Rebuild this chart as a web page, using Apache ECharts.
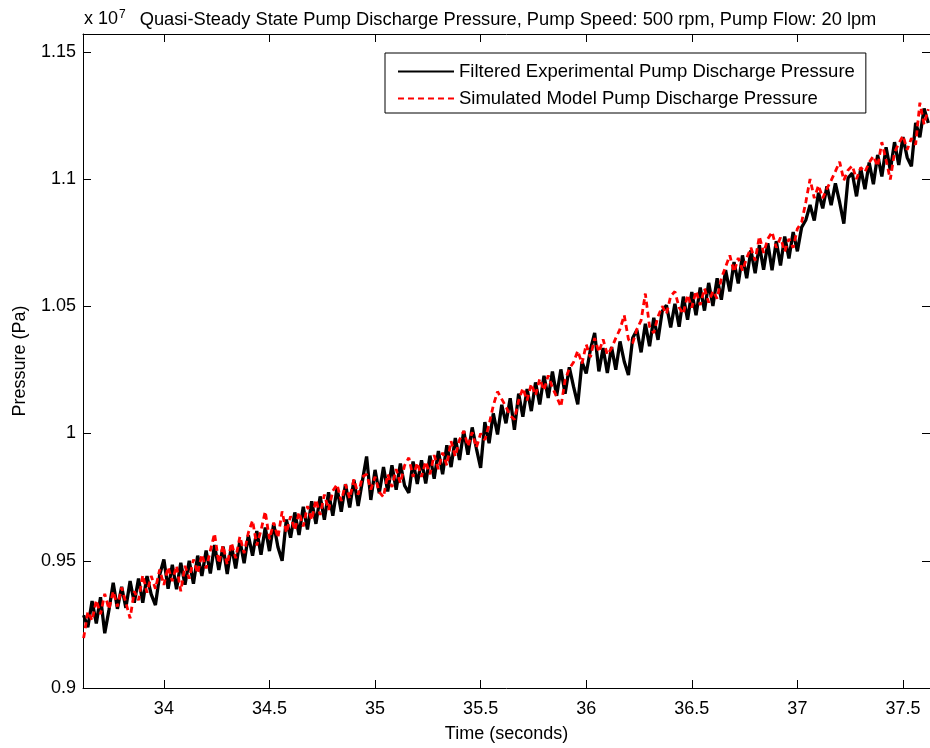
<!DOCTYPE html>
<html>
<head>
<meta charset="utf-8">
<script src="https://cdn.jsdelivr.net/npm/echarts@6/dist/echarts.min.js"></script>
<style>html,body{margin:0;padding:0;background:#fff}#c{width:930px;height:748px}</style>
</head>
<body>
<div id="c"></div>
<script>
// Sampling of the time axis (seconds)
const timeStart = 33.62;
const timeStep = 0.02;
// Pressure values in units of 1e7 Pa
const experimental = [
0.9286,0.9239,0.9342,0.9254,0.9357,0.9215,0.9307,0.9414,0.9311,0.9398,
0.9315,0.9420,0.9335,0.9430,0.9335,0.9440,0.9368,0.9326,0.9444,0.9505,
0.9390,0.9484,0.9388,0.9492,0.9406,0.9500,0.9410,0.9520,0.9440,0.9540,
0.9450,0.9562,0.9464,0.9556,0.9448,0.9560,0.9470,0.9580,0.9490,0.9600,
0.9520,0.9617,0.9524,0.9631,0.9538,0.9645,0.9554,0.9500,0.9662,0.9591,
0.9690,0.9601,0.9712,0.9623,0.9734,0.9645,0.9753,0.9661,0.9769,0.9677,
0.9785,0.9693,0.9801,0.9709,0.9817,0.9715,0.9813,0.9910,0.9739,0.9857,
0.9765,0.9868,0.9772,0.9875,0.9779,0.9882,0.9795,0.9767,0.9890,0.9802,
0.9895,0.9804,0.9913,0.9822,0.9931,0.9840,0.9954,0.9868,0.9982,0.9896,
1.0010,0.9917,1.0024,0.9941,0.9865,1.0045,0.9962,1.0079,0.9996,1.0113,
1.0040,1.0139,1.0015,1.0157,1.0066,1.0175,1.0088,1.0201,1.0114,1.0227,
1.0140,1.0244,1.0148,1.0252,1.0156,1.0260,1.0184,1.0115,1.0282,1.0236,
1.0330,1.0395,1.0244,1.0336,1.0238,1.0340,1.0251,1.0362,1.0283,1.0230,
1.0375,1.0407,1.0319,1.0431,1.0343,1.0455,1.0368,1.0481,1.0504,1.0417,
1.0510,1.0420,1.0538,1.0447,1.0556,1.0465,1.0574,1.0483,1.0592,1.0501,
1.0610,1.0526,1.0642,1.0558,1.0674,1.0590,1.0700,1.0610,1.0720,1.0630,
1.0740,1.0644,1.0748,1.0642,1.0756,1.0660,1.0774,1.0688,1.0792,1.0716,
1.0810,1.0839,1.0898,1.0837,1.0946,1.0885,1.0971,1.0897,1.0983,1.0909,
1.0825,1.1004,1.1023,1.0932,1.1041,1.0960,1.1065,1.0980,1.1095,1.1010,
1.1125,1.1035,1.1145,1.1055,1.1165,1.1085,1.1050,1.1221,1.1164,1.1277,
1.1220
];
const simulated = [
0.9196,0.9300,0.9265,0.9345,0.9290,0.9370,0.9310,0.9380,0.9320,0.9395,
0.9335,0.9274,0.9380,0.9345,0.9443,0.9375,0.9440,0.9390,0.9465,0.9405,
0.9475,0.9420,0.9480,0.9380,0.9480,0.9430,0.9505,0.9450,0.9525,0.9470,
0.9540,0.9607,0.9490,0.9560,0.9485,0.9570,0.9510,0.9595,0.9530,0.9610,
0.9658,0.9560,0.9620,0.9694,0.9585,0.9650,0.9590,0.9694,0.9610,0.9675,
0.9620,0.9690,0.9635,0.9715,0.9660,0.9740,0.9680,0.9760,0.9700,0.9775,
0.9800,0.9735,0.9800,0.9745,0.9820,0.9760,0.9830,0.9840,0.9780,0.9830,
0.9770,0.9750,0.9840,0.9790,0.9860,0.9805,0.9875,0.9905,0.9830,0.9885,
0.9830,0.9890,0.9840,0.9915,0.9860,0.9925,0.9875,0.9970,0.9910,0.9975,
1.0010,0.9950,1.0005,0.9945,1.0000,0.9975,1.0035,1.0110,1.0165,1.0135,
1.0105,1.0070,1.0055,1.0130,1.0178,1.0130,1.0195,1.0150,1.0215,1.0170,
1.0228,1.0180,1.0145,1.0105,1.0210,1.0255,1.0280,1.0325,1.0275,1.0350,
1.0300,1.0375,1.0320,1.0370,1.0310,1.0335,1.0375,1.0410,1.0465,1.0370,
1.0355,1.0410,1.0445,1.0550,1.0420,1.0395,1.0460,1.0500,1.0470,1.0540,
1.0558,1.0495,1.0470,1.0545,1.0495,1.0560,1.0505,1.0570,1.0515,1.0560,
1.0530,1.0610,1.0655,1.0700,1.0635,1.0690,1.0640,1.0690,1.0730,1.0680,
1.0775,1.0710,1.0765,1.0792,1.0730,1.0770,1.0715,1.0765,1.0730,1.0805,
1.0830,1.0910,1.1000,1.0925,1.0975,1.0925,1.0962,1.0995,1.1030,1.1068,
1.0995,1.1035,1.1052,1.1000,1.1045,1.1028,1.1065,1.1090,1.1050,1.1145,
1.1075,1.0998,1.1105,1.1140,1.1170,1.1115,1.1160,1.1135,1.1300,1.1215,
1.1275
];
const xTicks = [34, 34.5, 35, 35.5, 36, 36.5, 37, 37.5];
const yTicks = [0.9, 0.95, 1, 1.05, 1.1, 1.15];
const titleText = 'Quasi-Steady State Pump Discharge Pressure, Pump Speed: 500 rpm, Pump Flow: 20 lpm';
const seriesNames = ['Filtered Experimental Pump Discharge Pressure', 'Simulated Model Pump Discharge Pressure'];

function pairs(vals) {
  return vals.map((v, i) => [+(timeStart + i * timeStep).toFixed(4), v]);
}
const FONT = 'Liberation Sans, Arial, sans-serif';
const xMin = 33.617, xMax = 37.628, yMin = 0.9, yMax = 1.157;
const isTick = (arr, v) => arr.some(t => Math.abs(t - v) < 1e-6);

const chart = echarts.init(document.getElementById('c'), null, {renderer: 'canvas'});
const tickStyle = {show: true, inside: true, length: 8, lineStyle: {color: '#000', width: 1}};
chart.setOption({
  animation: false,
  backgroundColor: '#fff',
  title: [
    {text: 'x 10{s|7}', left: 79, top: 4,
     textStyle: {fontFamily: FONT, fontSize: 18, fontWeight: 'normal', color: '#000',
       rich: {s: {fontFamily: FONT, fontSize: 12, verticalAlign: 'top', padding: [0,0,9,1], color: '#000'}}}},
    {text: titleText, left: 503, textAlign: 'center', top: 6,
     textStyle: {fontFamily: FONT, fontSize: 18.3, fontWeight: 'normal', color: '#000'}}
  ],
  grid: {left: 83, right: 0, top: 34, bottom: 57, containLabel: false},
  legend: {
    orient: 'vertical', left: 385, top: 53,
    data: seriesNames,
    itemWidth: 56, itemHeight: 14, itemGap: 8,
    padding: [9, 11, 5, 12],
    borderColor: '#000', borderWidth: 1, backgroundColor: '#fff', borderRadius: 0,
    itemStyle: {opacity: 0},
    textStyle: {fontFamily: FONT, fontSize: 18.5, color: '#000'}
  },
  xAxis: [
    {type: 'value', min: xMin, max: xMax, splitNumber: 8,
     name: 'Time (seconds)', nameLocation: 'middle', nameGap: 37,
     nameTextStyle: {fontFamily: FONT, fontSize: 18, color: '#000'},
     axisLine: {show: true, onZero: false, lineStyle: {color: '#000', width: 1}},
     axisTick: tickStyle, splitLine: {show: false},
     axisLabel: {showMinLabel: false, showMaxLabel: false, margin: 12,
       fontFamily: FONT, fontSize: 18, color: '#000',
       formatter: v => isTick(xTicks, v) ? String(v) : ''}},
    {type: 'value', position: 'top', min: xMin, max: xMax, splitNumber: 8,
     axisLine: {show: true, onZero: false, lineStyle: {color: '#000', width: 1}},
     axisTick: tickStyle, splitLine: {show: false}, axisLabel: {show: false}}
  ],
  yAxis: [
    {type: 'value', min: yMin, max: yMax, interval: 0.05,
     name: 'Pressure (Pa)', nameLocation: 'middle', nameGap: 54, nameRotate: 90,
     nameTextStyle: {fontFamily: FONT, fontSize: 18, color: '#000'},
     axisLine: {show: true, onZero: false, lineStyle: {color: '#000', width: 1}},
     axisTick: tickStyle, splitLine: {show: false},
     axisLabel: {showMaxLabel: false, margin: 7, fontFamily: FONT, fontSize: 18, color: '#000',
       formatter: v => isTick(yTicks, v) ? String(+v.toFixed(2)) : ''}},
    {type: 'value', position: 'right', min: yMin, max: yMax, interval: 0.05,
     axisLine: {show: true, onZero: false, lineStyle: {color: '#000', width: 1}},
     axisTick: tickStyle, splitLine: {show: false}, axisLabel: {show: false}}
  ],
  series: [
    {name: seriesNames[0], type: 'line', data: pairs(experimental), symbol: 'none',
     lineStyle: {color: '#000', width: 3.3}, itemStyle: {color: '#000'}, z: 2},
    {name: seriesNames[1], type: 'line', data: pairs(simulated), symbol: 'none',
     lineStyle: {color: '#ff0000', width: 2.8, type: [6, 4]}, itemStyle: {color: '#ff0000'}, z: 3}
  ]
});
</script>
</body>
</html>
